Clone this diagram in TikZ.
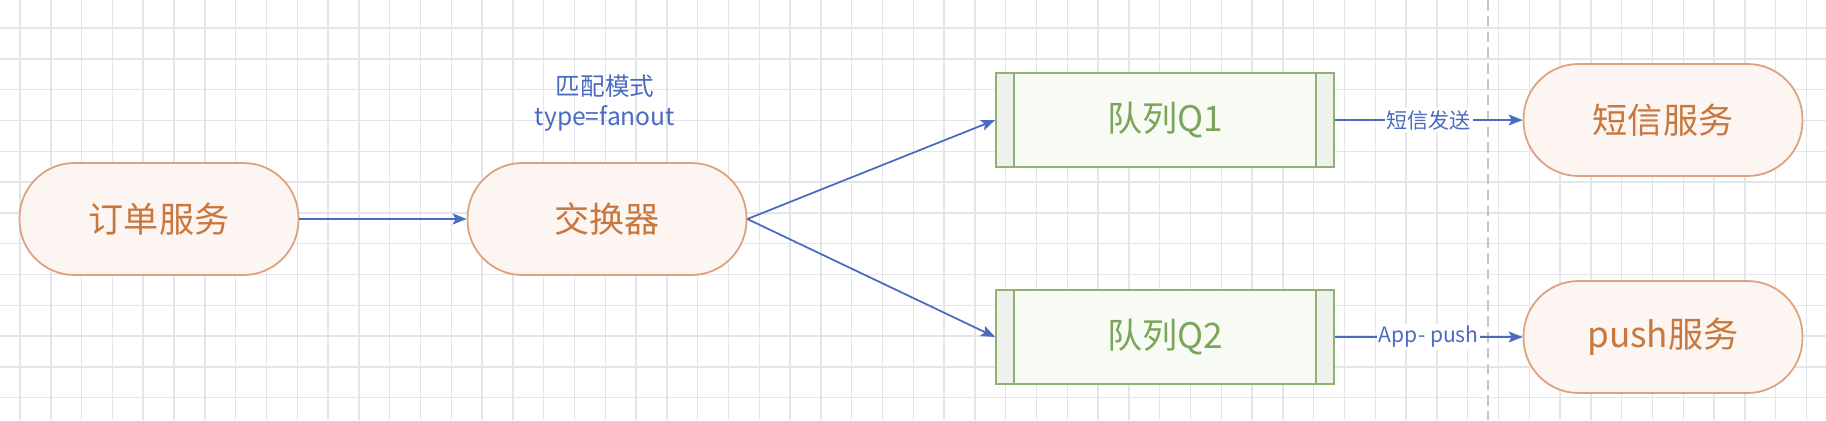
\documentclass[tikz,border=0pt]{standalone}
\usepackage{fontspec}
\newfontfamily\cjk{Noto Sans CJK SC}
\usepackage{tikz}
\usetikzlibrary{arrows.meta}
\definecolor{svcline}{HTML}{DDA17F}
\definecolor{svcfill}{HTML}{FDF5F1}
\definecolor{svctext}{HTML}{C8783F}
\definecolor{qline}{HTML}{8DB36E}
\definecolor{qfill}{HTML}{F8FBF4}
\definecolor{qstrip}{HTML}{EEF1EC}
\definecolor{qtext}{HTML}{7AA55A}
\definecolor{flowblue}{HTML}{4A6BC0}
\definecolor{gridgray}{HTML}{E2E5EA}
\tikzset{
  svc/.style={draw=svcline, fill=svcfill, line width=1pt, rounded corners=1.1cm,
    minimum width=5.58cm, minimum height=2.24cm, text=svctext,
    font=\cjk\fontsize{20}{24}\selectfont},
  queue/.style={draw=qline, fill=qfill, line width=1pt,
    minimum width=6.76cm, minimum height=1.88cm, text=qtext,
    font=\cjk\fontsize{20}{24}\selectfont,
    path picture={
      \fill[qstrip] (path picture bounding box.north west) rectangle ([xshift=0.36cm]path picture bounding box.south west);
      \fill[qstrip] (path picture bounding box.north east) rectangle ([xshift=-0.36cm]path picture bounding box.south east);
      \draw[qline, line width=1pt] ([xshift=0.36cm]path picture bounding box.north west) -- ([xshift=0.36cm]path picture bounding box.south west);
      \draw[qline, line width=1pt] ([xshift=-0.36cm]path picture bounding box.north east) -- ([xshift=-0.36cm]path picture bounding box.south east);
    }},
  flow/.style={draw=flowblue, line width=1pt, -{Stealth[length=0.28cm, width=0.22cm, inset=0.06cm]}},
  elabel/.style={fill=white, inner sep=1pt, text=flowblue, font=\cjk\fontsize{12}{14}\selectfont},
  note/.style={text=flowblue, align=center, font=\cjk\fontsize{14}{17}\selectfont},
  gridline/.style={draw=gridgray, line width=0.8pt},
  divider/.style={draw=gray!45, line width=0.8pt, dash pattern=on 6pt off 3pt}
}

\begin{document}
\begin{tikzpicture}[x=0.02cm, y=-0.02cm]
        \useasboundingbox (0,0) rectangle (1826,420);
        \fill[white] (0,0) rectangle (1826,420);

        \foreach \i in {0,...,58}
            \draw[gridline] ({20+30.8*\i},0) -- ({20+30.8*\i},420);
        \foreach \j in {0,...,12}
            \draw[gridline] (0,{28+30.8*\j}) -- (1826,{28+30.8*\j});

        \draw[divider] (1488,0) -- (1488,420);

        \node[svc] (order) at (159,219) {订单服务};
        \node[svc] (exch) at (607,219) {交换器};
        \node[note] (mode) at (605,103) {匹配模式\\type=fanout};

        \node[queue] (q1) at (1165,120) {队列Q1};
        \node[queue] (q2) at (1165,337) {队列Q2};

        \node[svc] (sms) at (1663,120) {短信服务};
        \node[svc] (push) at (1663,337) {push服务};

        \draw[flow] (order) -- (exch);
        \draw[flow] (exch.east) -- (q1.west);
        \draw[flow] (exch.east) -- (q2.west);
        \draw[flow] (q1) -- node[elabel] {短信发送} (sms);
        \draw[flow] (q2) -- node[elabel] {App- push} (push);

\end{tikzpicture}
\end{document}
